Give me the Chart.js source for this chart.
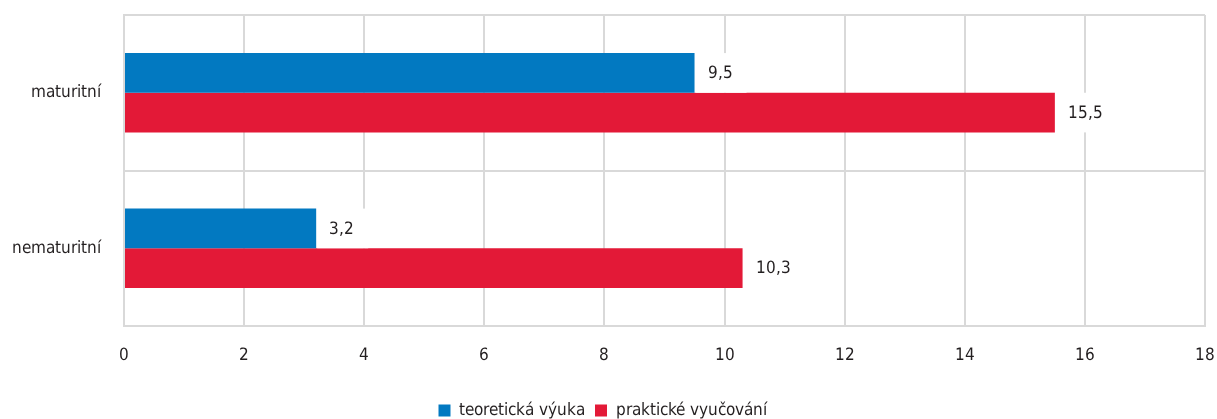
<!DOCTYPE html>
<html>
<head>
<meta charset="utf-8">
<script src="https://cdn.jsdelivr.net/npm/chart.js@4"></script>
<style>
  @font-face {
    font-family: 'NarrowSans';
    src: local('DejaVu Sans Condensed'), local('DejaVuSansCondensed'),
         local('Liberation Sans Narrow'), local('LiberationSansNarrow-Regular'),
         local('Roboto Condensed'), local('RobotoCondensed-Regular'),
         local('Open Sans Condensed'), local('OpenSansCondensed-Light');
  }
  html, body { margin: 0; padding: 0; background: #fff; }
  #wrap { width: 1217px; height: 419px; }
</style>
</head>
<body>
<div id="wrap"><canvas id="chart"></canvas></div>
<script>
'use strict'

const categories = ['maturitní', 'nematuritní'];
const seriesNames = ['teoretická výuka', 'praktické vyučování'];
const teoreticka = [9.5, 3.2];
const prakticka = [15.5, 10.3];
const xTicks = [0, 2, 4, 6, 8, 10, 12, 14, 16, 18];

let fontFamily = 'NarrowSans, Roboto, sans-serif';
let fontSize = 17;
const textColor = '#231f20';

function formatValue(v){
    return String(v).replace('.', ',');
}

// value labels with white box to the right of each bar
const valueLabels = {
    id: 'valueLabels',
    afterDatasetsDraw(chart){
        const ctx = chart.ctx;
        ctx.save();
        ctx.font = fontSize + 'px ' + fontFamily;
        ctx.textBaseline = 'middle';
        chart.data.datasets.forEach((ds, i) => {
            const meta = chart.getDatasetMeta(i);
            meta.data.forEach((bar, j) => {
                let text = formatValue(ds.data[j]);
                let w = ctx.measureText(text).width;
                let h = bar.height;
                let left = bar.x + 1;
                ctx.fillStyle = '#ffffff';
                ctx.fillRect(left, bar.y - h / 2, w + 26, h);
                ctx.fillStyle = textColor;
                ctx.fillText(text, left + 12, bar.y + 1);
            });
        });
        ctx.restore();
    }
};

function buildChart(){
    const font = { family: fontFamily, size: fontSize };
    const data = {
        labels: categories,
        datasets: [{
            label: seriesNames[0],
            data: teoreticka,
            backgroundColor: '#0279c1',
            borderWidth: 0
        },
        {
            label: seriesNames[1],
            data: prakticka,
            backgroundColor: '#e31937',
            borderWidth: 0
        }]
    };

    const config = {
        type: 'bar',
        data: data,
        plugins: [valueLabels],
        options: {
            indexAxis: 'y',
            responsive: true,
            maintainAspectRatio: false,
            animation: false,
            layout: {
                padding: { top: 15, right: 12, left: 0, bottom: -10 }
            },
            datasets: {
                bar: {
                    categoryPercentage: 0.51,
                    barPercentage: 1.0
                }
            },
            scales: {
                x: {
                    min: 0,
                    max: 18,
                    afterBuildTicks: (scale) => {
                        scale.ticks = xTicks.map(v => ({ value: v }));
                    },
                    afterFit: (scale) => {
                        scale.height = 66;
                        scale.paddingLeft = 0;
                        scale.paddingRight = 0;
                    },
                    grid: {
                        color: '#d9d9d9',
                        lineWidth: 2,
                        drawTicks: false
                    },
                    border: { color: '#d9d9d9', width: 2 },
                    ticks: {
                        padding: 19,
                        color: textColor,
                        font: font
                    }
                },
                y: {
                    afterFit: (scale) => {
                        scale.width = 124;
                        scale.paddingTop = 0;
                        scale.paddingBottom = 0;
                    },
                    grid: {
                        offset: true,
                        color: '#d9d9d9',
                        lineWidth: 2,
                        drawTicks: false
                    },
                    border: { color: '#d9d9d9', width: 2 },
                    ticks: {
                        padding: 23,
                        color: textColor,
                        font: font
                    }
                }
            },
            plugins: {
                legend: {
                    position: 'bottom',
                    labels: {
                        boxWidth: 12,
                        boxHeight: 12,
                        padding: 10,
                        color: textColor,
                        font: font
                    }
                },
                tooltip: { enabled: false }
            }
        }
    };

    new Chart(document.getElementById('chart'), config);
}

document.fonts.load('17px NarrowSans').then((faces) => {
    if (!faces.length){
        fontFamily = 'Roboto, sans-serif';
        fontSize = 16;
    }
    buildChart();
}, () => {
    fontFamily = 'Roboto, sans-serif';
    fontSize = 16;
    buildChart();
});
</script>
</body>
</html>
